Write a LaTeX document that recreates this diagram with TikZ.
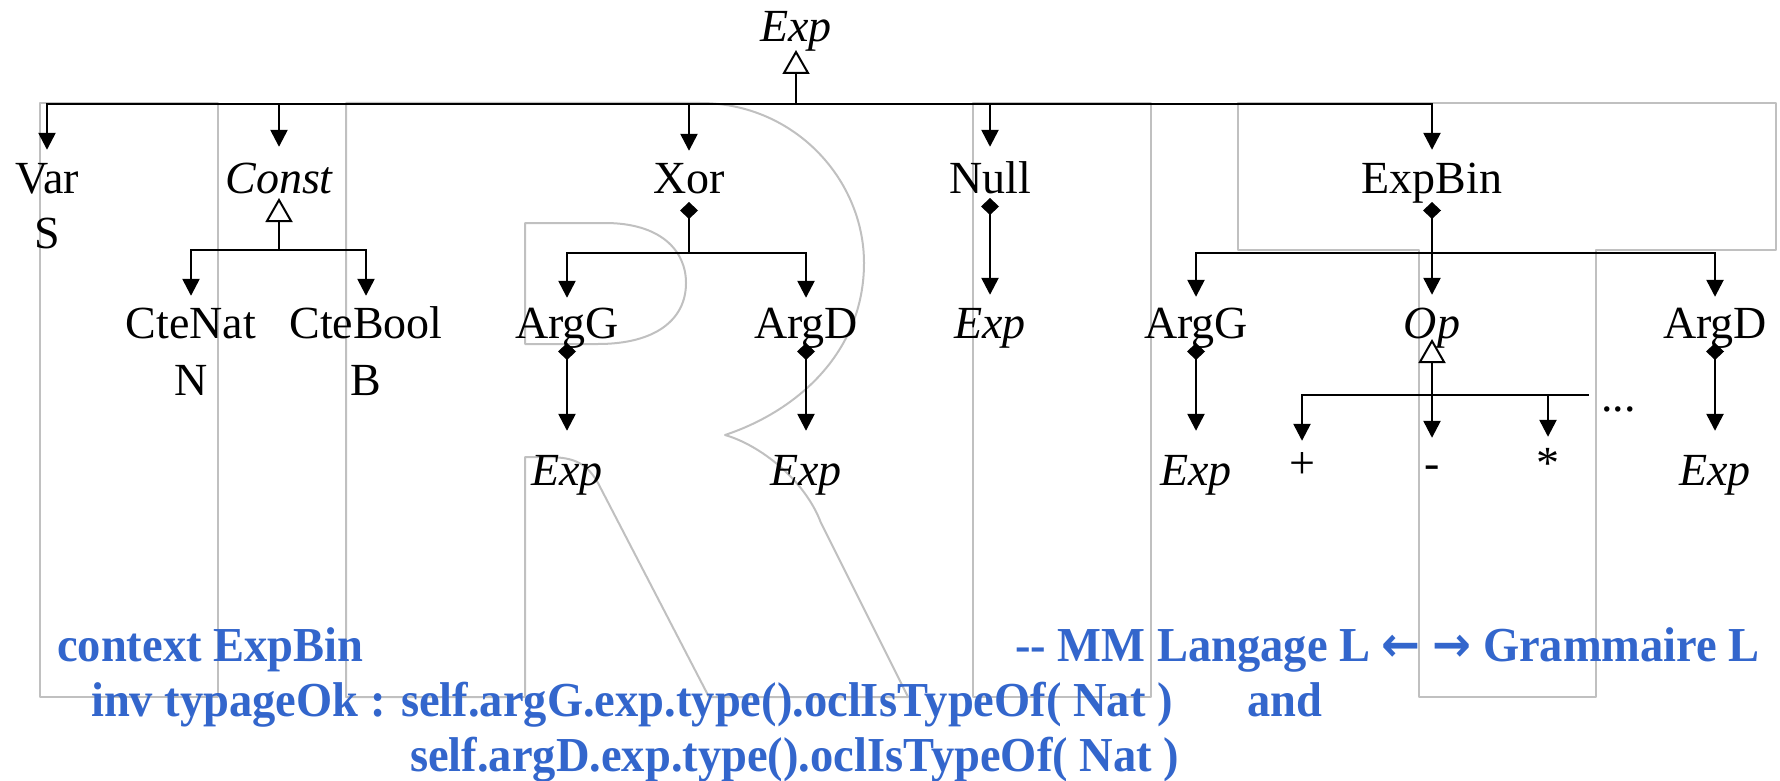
\documentclass[tikz,border=0pt]{standalone}
\usepackage{fontspec}
\usepackage{graphicx}
\setmainfont{Liberation Serif}
\newfontfamily\arrowfont{DejaVu Sans}
\usetikzlibrary{arrows.meta}
\definecolor{oclblue}{RGB}{51,102,204}
\definecolor{logogray}{RGB}{192,192,192}

\begin{document}
\begin{tikzpicture}[x=1pt,y=-1pt,
  lbl/.style={inner sep=0pt, text height=31pt, text depth=10pt, anchor=base,
              font=\fontsize{46}{55}\selectfont},
  ilbl/.style={lbl, font=\fontsize{46}{55}\selectfont\itshape},
  link/.style={line width=2.5pt, line join=miter},
  arr/.style={link, -{Triangle[length=17pt,width=17pt]}},
  comp/.style={link, {Diamond[length=17pt,width=18pt]}-{Triangle[length=17pt,width=17pt]}},
  compstem/.style={link, {Diamond[length=17pt,width=18pt]}-},
  gen/.style={link, -{Triangle[length=24pt,width=27pt,fill=white,line width=2pt]}},
  logo/.style={draw=logogray, line width=2pt, line join=round},
  ocl/.style={text=oclblue, inner sep=0pt, anchor=base west,
              font=\fontsize{46.5}{56}\selectfont\bfseries},
]
\useasboundingbox (0,0) rectangle (1780,781);

% ---- background logo outline: I R I T ----
\draw[logo] (40,103) rectangle (218,697);
\draw[logo] (346,697) -- (346,103) -- (700,103)
  .. controls (795,103) and (864,180) .. (864,263)
  .. controls (864,350) and (800,410) .. (725,435)
  .. controls (760,445) and (805,480) .. (821,523)
  -- (908,697) -- (709,697) -- (598,483)
  .. controls (585,460) and (570,457) .. (544,457)
  -- (525,457) -- (525,697) -- cycle;
\draw[logo] (525,223) -- (605,223)
  .. controls (660,223) and (686,250) .. (686,283)
  .. controls (686,320) and (655,344) .. (598,344)
  -- (525,344) -- cycle;
\draw[logo] (973,103) rectangle (1151,697);
\draw[logo] (1238,103) -- (1776,103) -- (1776,250) -- (1596,250) -- (1596,697)
  -- (1419,697) -- (1419,250) -- (1238,250) -- cycle;

% ---- metamodel classes ----
\node[ilbl] (expTop) at (796,42) {Exp};
\node[lbl]  (var)    at (47,193) {Var};
\node[lbl]  (varS)   at (47,248) {S};
\node[ilbl] (const)  at (279,193) {Const};
\node[lbl]  (xor)    at (689,193) {Xor};
\node[lbl]  (null)   at (990,193) {Null};
\node[lbl]  (expbin) at (1432,193) {ExpBin};

\node[lbl]  (ctenat)  at (191,338) {CteNat};
\node[lbl]  (nat)     at (191,395) {N};
\node[lbl]  (ctebool) at (366,338) {CteBool};
\node[lbl]  (bool)    at (366,395) {B};
\node[lbl]  (argGx)   at (567,338) {ArgG};
\node[lbl]  (argDx)   at (806,338) {ArgD};
\node[ilbl] (nullExp) at (990,338) {Exp};
\node[lbl]  (argGb)   at (1196,338) {ArgG};
\node[ilbl] (op)      at (1432,338) {Op};
\node[lbl]  (argDb)   at (1715,338) {ArgD};

\node[ilbl] (expGx) at (567,485) {Exp};
\node[ilbl] (expDx) at (806,485) {Exp};
\node[ilbl] (expGb) at (1196,485) {Exp};
\node[ilbl] (expDb) at (1715,485) {Exp};

\node[lbl] (plus)  at (1302,478) {+};
\node[lbl] (minus) at (1432,478) {-};
\node[lbl] (star)  at (1548,478) {*};
\node[lbl, anchor=base west] (dots) at (1601,411) {...};

% ---- junction points ----
\coordinate (jTop)   at (796,104);
\coordinate (jConst) at (279,250);
\coordinate (jXor)   at (689,253);
\coordinate (jBin)   at (1432,253);
\coordinate (jOp)    at (1432,395);
\coordinate (opEnd)  at (1589,395);

% ---- Exp hierarchy ----
\draw[gen] (jTop) -- ([yshift=-8pt]expTop.base);
\draw[arr] (jTop) -| ([yshift=12pt]var.north);
\draw[arr] (jTop) -| ([yshift=12pt]expbin.north);
\draw[arr] (const.north |- jTop) -- ([yshift=15pt]const.north);
\draw[arr] (xor.north |- jTop) -- ([yshift=11pt]xor.north);
\draw[arr] (null.north |- jTop) -- ([yshift=15pt]null.north);

% ---- Const ----
\draw[gen] (jConst) -- ([yshift=-5pt]const.base);
\draw[arr] (jConst) -| ([yshift=11pt]ctenat.north);
\draw[arr] (jConst) -| ([yshift=11pt]ctebool.north);

% ---- Xor ----
\draw[compstem] ([yshift=-9pt]xor.base) -- (jXor);
\draw[arr] (jXor) -| ([yshift=9pt]argGx.north);
\draw[arr] (jXor) -| ([yshift=9pt]argDx.north);
\draw[comp] ([yshift=-5pt]argGx.base) -- ([yshift=23pt]expGx.north);
\draw[comp] ([yshift=-5pt]argDx.base) -- ([yshift=23pt]expDx.north);

% ---- Null ----
\draw[comp] ([yshift=-5pt]null.base) -- ([yshift=12pt]nullExp.north);

% ---- ExpBin ----
\draw[compstem] ([yshift=-9pt]expbin.base) -- (jBin);
\draw[arr] (jBin) -| ([yshift=10pt]argGb.north);
\draw[arr] (jBin) -- ([yshift=12pt]op.north);
\draw[arr] (jBin) -| ([yshift=10pt]argDb.north);
\draw[comp] ([yshift=-5pt]argGb.base) -- ([yshift=23pt]expGb.north);
\draw[comp] ([yshift=-5pt]argDb.base) -- ([yshift=23pt]expDb.north);

% ---- Op ----
\draw[gen] (jOp) -- ([yshift=-1pt]op.base);
\draw[link] (jOp) -- (opEnd);
\draw[arr] (jOp) -| ([yshift=6pt]plus.north);
\draw[arr] (jOp) -- ([yshift=9pt]minus.north);
\draw[arr] (star.north |- jOp) -- ([yshift=10pt]star.north);

% ---- OCL constraint ----
\node[ocl] (ctx)  at (57,661)   {\scalebox{1}[1.05]{context ExpBin}};
\node[ocl] (note) at (1015,661) {\scalebox{1}[1.05]{-{}- MM Langage L {\arrowfont\bfseries ←} {\arrowfont\bfseries →} Grammaire L}};
\node[ocl] (inv)  at (91,716)   {\scalebox{1}[1.05]{inv typageOk : self.argG.exp.type().oclIsTypeOf( Nat )}};
\node[ocl] (conj) at (1247,716) {\scalebox{1}[1.05]{and}};
\node[ocl] (inv2) at (410,771)  {\scalebox{1}[1.05]{self.argD.exp.type().oclIsTypeOf( Nat )}};
\end{tikzpicture}
\end{document}
